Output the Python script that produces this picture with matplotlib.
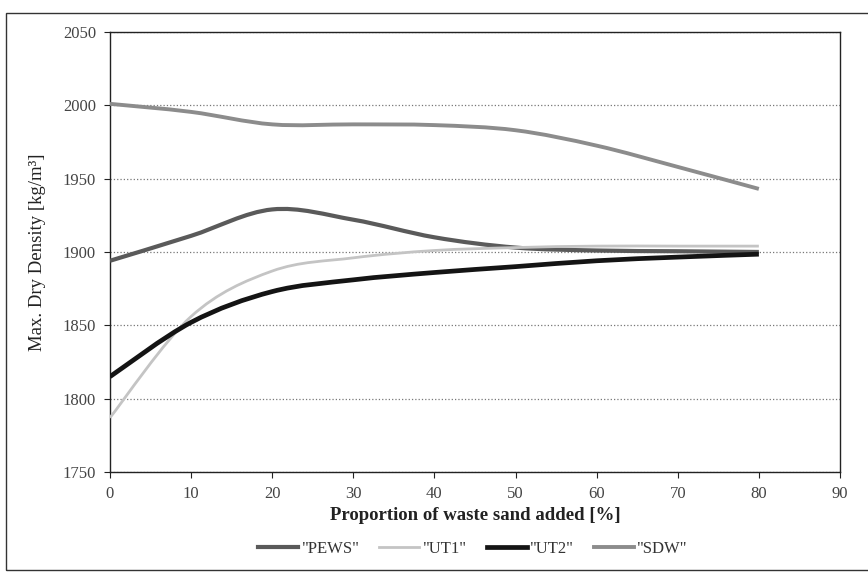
import numpy as np
import matplotlib
matplotlib.use("Agg")
import matplotlib.pyplot as plt
from matplotlib.path import Path
from matplotlib.patches import PathPatch, Rectangle
from matplotlib.lines import Line2D

plt.rcParams['font.family'] = ['Liberation Serif', 'DejaVu Serif']

# waste sand proportion [%]
sand = [0, 10, 20, 30, 40, 50, 60, 70, 80]

# max dry density [kg/m3] per series
pews = [1894, 1911, 1929, 1922, 1910, 1903, 1901, 1900.5, 1900]
ut1 = [1787, 1856, 1887, 1896, 1901, 1903, 1904, 1904, 1904]
ut2 = [1815, 1852, 1873, 1881, 1886, 1890, 1894, 1896.5, 1898.5]
sdw = [2001, 1995.5, 1987, 1987, 1986.5, 1983, 1972.5, 1958, 1943]

names = ['"PEWS"', '"UT1"', '"UT2"', '"SDW"']
kleuren = ['#5a5a5a', '#c4c4c4', '#141414', '#8c8c8c']
diktes = [3.0, 2.0, 3.4, 2.8]


def smooth_path(x, y):
    # Excel-achtige gladde lijn: Bezier segmenten door de meetpunten
    p = np.column_stack([x, y]).astype(float)
    n = len(p)
    verts = [p[0]]
    codes = [Path.MOVETO]
    for i in range(n - 1):
        p0 = p[max(i - 1, 0)]
        p1 = p[i]
        p2 = p[i + 1]
        p3 = p[min(i + 2, n - 1)]
        c1 = p1 + (p2 - p0) / 6.0
        c2 = p2 - (p3 - p1) / 6.0
        verts += [c1, c2, p2]
        codes += [Path.CURVE4] * 3
    return Path(verts, codes)


fig = plt.figure(figsize=(8.68, 5.76), dpi=100)
ax = fig.add_axes([0.1267, 0.1806, 0.841, 0.7639])

for serie, kleur, lw in zip([pews, ut1, ut2, sdw], kleuren, diktes):
    patch = PathPatch(smooth_path(sand, serie), facecolor='none', edgecolor=kleur,
                      lw=lw, capstyle='butt', joinstyle='round', zorder=3)
    ax.add_patch(patch)

ax.set_xlim(0, 90)
ax.set_ylim(1750, 2050)
ax.set_xticks(np.arange(0, 91, 10))
ax.set_yticks(np.arange(1750, 2051, 50))
ax.grid(axis='y', linestyle=':', color='#777777', lw=0.9)
ax.set_axisbelow(True)
for s in ax.spines.values():
    s.set_color('#222222')
    s.set_linewidth(1.0)
ax.tick_params(direction='out', length=4, width=0.8, labelsize=12,
               colors='#222222', labelcolor='#444444', pad=6)

ax.set_xlabel('Proportion of waste sand added [%]', fontsize=13.5,
              fontweight='bold', color='#222222', labelpad=4)
ax.set_ylabel('Max. Dry Density [kg/m³]', fontsize=13.5, color='#222222',
              labelpad=12)

handles = [Line2D([], [], color=k, lw=lw) for k, lw in zip(kleuren, diktes)]
fig.legend(handles, names, loc='center', bbox_to_anchor=(0.545, 0.047),
           ncol=4, frameon=False, fontsize=12, handlelength=2.4,
           handletextpad=0.2, columnspacing=1.2, labelcolor='#333333')

# rand om de hele grafiek
fig.patches.append(Rectangle((0.007, 0.01), 0.995, 0.967, transform=fig.transFigure,
                             fill=False, edgecolor='#333333', lw=1.0))

fig.savefig('out.png', dpi=100)
